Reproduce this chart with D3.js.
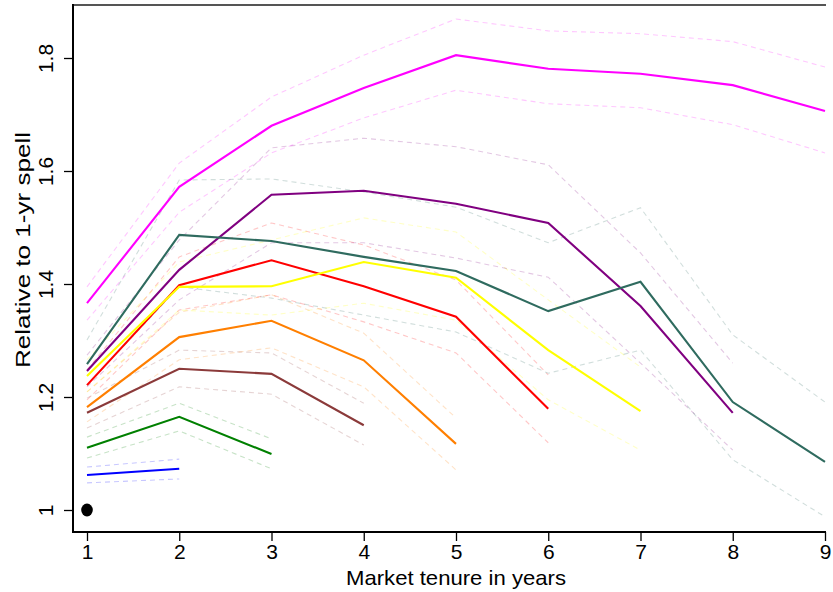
<!DOCTYPE html>
<html>
<head>
<meta charset="utf-8">
<script src="https://cdn.jsdelivr.net/npm/d3@7"></script>
<style>
  html, body { margin: 0; padding: 0; background: #fff; }
  svg { display: block; }
  text { font-family: "Liberation Sans", Arial, sans-serif; fill: #000; }
</style>
</head>
<body>
<svg id="chart" width="833" height="592"></svg>
<script>
// ---- data ----
const years = [1, 2, 3, 4, 5, 6, 7, 8, 9];
const xTickLabels = ["1", "2", "3", "4", "5", "6", "7", "8", "9"];
const yTicks = [1, 1.2, 1.4, 1.6, 1.8];
const yTickLabels = ["1", "1.2", "1.4", "1.6", "1.8"];
const baseline = [1];

const colors = ["#0000ff", "#008000", "#8b3a3a", "#ff7f00", "#ff0000", "#ffff00", "#800080", "#2f6b5f", "#ff00ff"];

// estimates (relative to 1-yr spell), by cohort (spell length)
const est2 = [1.062, 1.073];
const est3 = [1.110, 1.165, 1.099];
const est4 = [1.172, 1.250, 1.241, 1.150];
const est5 = [1.182, 1.306, 1.335, 1.265, 1.117];
const est6 = [1.221, 1.398, 1.442, 1.396, 1.342, 1.179];
const est7 = [1.237, 1.395, 1.396, 1.439, 1.411, 1.283, 1.175];
const est8 = [1.246, 1.425, 1.558, 1.565, 1.542, 1.508, 1.361, 1.172];
const est9 = [1.258, 1.487, 1.476, 1.448, 1.423, 1.352, 1.404, 1.191, 1.085];
const est10 = [1.366, 1.572, 1.680, 1.747, 1.805, 1.781, 1.772, 1.752, 1.706];

// upper confidence bounds
const hi2 = [1.076, 1.090];
const hi3 = [1.129, 1.189, 1.126];
const hi4 = [1.198, 1.283, 1.278, 1.189];
const hi5 = [1.209, 1.350, 1.381, 1.313, 1.163];
const hi6 = [1.248, 1.448, 1.508, 1.469, 1.407, 1.239];
const hi7 = [1.266, 1.439, 1.478, 1.517, 1.492, 1.372, 1.253];
const hi8 = [1.274, 1.478, 1.641, 1.658, 1.643, 1.611, 1.455, 1.260];
const hi9 = [1.301, 1.584, 1.586, 1.563, 1.536, 1.473, 1.535, 1.310, 1.191];
const hi10 = [1.395, 1.614, 1.731, 1.805, 1.869, 1.848, 1.843, 1.829, 1.784];

// lower confidence bounds
const lo2 = [1.048, 1.055];
const lo3 = [1.092, 1.140, 1.073];
const lo4 = [1.145, 1.218, 1.205, 1.115];
const lo5 = [1.156, 1.266, 1.287, 1.218, 1.071];
const lo6 = [1.195, 1.354, 1.381, 1.333, 1.278, 1.119];
const lo7 = [1.209, 1.354, 1.345, 1.366, 1.336, 1.195, 1.106];
const lo8 = [1.218, 1.372, 1.473, 1.473, 1.446, 1.412, 1.260, 1.106];
const lo9 = [1.221, 1.395, 1.375, 1.345, 1.315, 1.242, 1.283, 1.089, 0.988];
const lo10 = [1.336, 1.527, 1.632, 1.694, 1.743, 1.719, 1.712, 1.682, 1.632];

const estimates = [est2, est3, est4, est5, est6, est7, est8, est9, est10];
const uppers = [hi2, hi3, hi4, hi5, hi6, hi7, hi8, hi9, hi10];
const lowers = [lo2, lo3, lo4, lo5, lo6, lo7, lo8, lo9, lo10];

// ---- chart ----
const svg = d3.select("#chart");
const x = d3.scaleLinear().domain([1, 9]).range([87, 825]);
const y = d3.scaleLinear().domain([1, 1.8]).range([510, 58]);

const plotLeft = 73, plotRight = 826, plotTop = 5, plotBottom = 532;

const line = d3.line().x((d, i) => x(years[i])).y(d => y(d));

// confidence bounds (faint dashed)
const ciG = svg.append("g");
estimates.forEach((e, k) => {
  [uppers[k], lowers[k]].forEach(b => {
    ciG.append("path")
      .attr("d", line(b))
      .attr("fill", "none")
      .attr("stroke", colors[k])
      .attr("stroke-opacity", 0.22)
      .attr("stroke-width", 1.1)
      .attr("stroke-dasharray", "5,4");
  });
});

// estimate lines
const mainG = svg.append("g");
estimates.forEach((e, k) => {
  mainG.append("path")
    .attr("d", line(e))
    .attr("fill", "none")
    .attr("stroke", colors[k])
    .attr("stroke-width", 2.1)
    .attr("stroke-linejoin", "miter");
});

// baseline dot
svg.selectAll("ellipse.base").data(baseline).enter().append("ellipse")
  .attr("class", "base")
  .attr("cx", x(1)).attr("cy", d => y(d))
  .attr("rx", 5.8).attr("ry", 6.5)
  .attr("fill", "#000");

// frame
svg.append("line").attr("x1", plotLeft).attr("x2", plotRight).attr("y1", plotTop).attr("y2", plotTop)
  .attr("stroke", "#555").attr("stroke-width", 2);

// axes
const xAxis = d3.axisBottom(x).tickValues(years).tickFormat((d, i) => xTickLabels[i])
  .tickSizeOuter(0).tickSizeInner(9).tickPadding(3);
const gx = svg.append("g").attr("transform", `translate(0,${plotBottom})`).call(xAxis);
gx.select(".domain").remove();
gx.selectAll(".tick line").attr("stroke", "#000").attr("stroke-width", 1.3);
gx.selectAll(".tick text").attr("font-size", 21).attr("fill", "#000")
  .attr("font-family", "'Liberation Sans', Arial, sans-serif");

const yAxis = d3.axisLeft(y).tickValues(yTicks).tickFormat((d, i) => yTickLabels[i])
  .tickSizeOuter(0).tickSizeInner(9).tickPadding(0);
const gy = svg.append("g").attr("transform", `translate(${plotLeft},0)`).call(yAxis);
gy.select(".domain").remove();
gy.selectAll(".tick line").attr("stroke", "#000").attr("stroke-width", 1.3);
gy.selectAll(".tick text")
  .attr("font-size", 21).attr("fill", "#000")
  .attr("font-family", "'Liberation Sans', Arial, sans-serif")
  .attr("text-anchor", "middle")
  .attr("x", null).attr("dy", null)
  .attr("transform", "translate(-20,0) rotate(-90)");

// axis lines
svg.append("line").attr("x1", plotLeft).attr("x2", plotLeft).attr("y1", plotTop - 1).attr("y2", plotBottom + 1)
  .attr("stroke", "#000").attr("stroke-width", 2);
svg.append("line").attr("x1", plotLeft - 1).attr("x2", plotRight).attr("y1", plotBottom).attr("y2", plotBottom)
  .attr("stroke", "#000").attr("stroke-width", 2);

// titles
svg.append("text").attr("x", (87 + 825) / 2).attr("y", 585).attr("text-anchor", "middle")
  .attr("font-size", 21).attr("textLength", 220).attr("lengthAdjust", "spacingAndGlyphs")
  .text("Market tenure in years");
svg.append("text").attr("transform", `translate(30,250) rotate(-90)`)
  .attr("text-anchor", "middle").attr("font-size", 21)
  .attr("textLength", 236).attr("lengthAdjust", "spacingAndGlyphs")
  .text("Relative to 1-yr spell");
</script>
</body>
</html>
